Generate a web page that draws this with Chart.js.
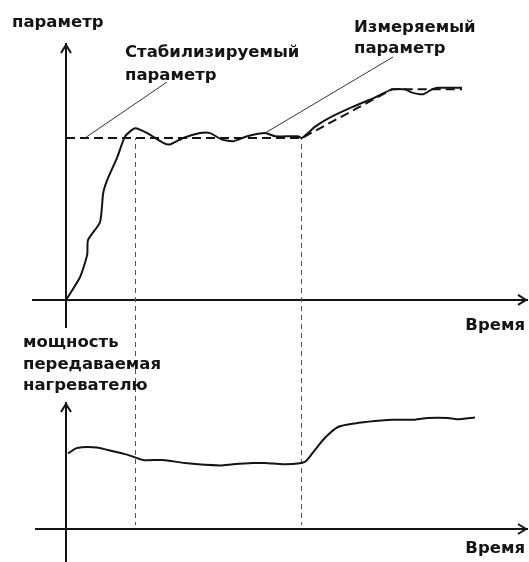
<!DOCTYPE html>
<html>
<head>
<meta charset="utf-8">
<script src="https://cdn.jsdelivr.net/npm/chart.js@4.4.1/dist/chart.umd.min.js"></script>
<style>
  html, body { margin: 0; padding: 0; background: #fff; }
  #wrap { position: relative; width: 529px; height: 562px; overflow: hidden; }
  #wrap canvas { position: absolute; left: 0; top: 0; }
</style>
</head>
<body>
<div id="wrap">
  <canvas id="topChart" width="529" height="562"></canvas>
  <canvas id="bottomChart" width="529" height="562"></canvas>
</div>
<script>
// time in conventional units, parameter in % of the setpoint, power in %
const timeMarks = [17.25, 58.75];

const measuredT = [0, 3.5, 5.3, 5.5, 8.5, 9.3, 10.3, 12.8, 14.8, 17.3, 20.3, 24.3, 26, 29.3, 33.5, 36, 39, 41.8, 45.3, 49.8, 52.3, 58, 59, 62.3, 65.5, 71.5, 77.3, 81.5, 84.8, 86.5, 89.3, 91.5, 93, 99];
const measuredV = [0, 14, 28, 37, 48, 66, 74, 88, 101, 106, 103, 97, 96, 100, 103, 103, 99, 98, 101, 103, 101, 101, 100, 107, 112, 119, 125, 130, 130, 128, 127, 130, 131, 131];

const setpointT = [0, 59, 81.5, 99];
const setpointV = [100, 100, 130, 130];

const powerT = [0.5, 2.75, 7.75, 10.25, 15.25, 19.25, 24.25, 29.75, 38.5, 41.75, 46.75, 49.75, 54.75, 59.75, 62.25, 64.75, 68, 72.25, 77.25, 81.5, 86.5, 90.5, 95.5, 97.75, 102.25];
const powerP = [63, 67.5, 68, 66, 62, 57.5, 57.5, 55, 53, 54, 55, 55, 54, 56, 66, 76, 85, 88, 90, 91, 91, 92.5, 92.5, 91.5, 93];

const topAxisLabel = ['параметр'];
const bottomAxisLabel = ['мощность', 'передаваемая', 'нагревателю'];
const timeLabel = 'Время';
const setpointLabel = ['Стабилизируемый', 'параметр'];
const measuredLabel = ['Измеряемый', 'параметр'];

const INK = '#141414';
const FONT = 'bold 16.5px "DejaVu Sans"';
const SPLIT_Y = 340; // where the guide line passes from one chart to the other

function zip(t, v) {
  return t.map((x, i) => ({ x: x, y: v[i] }));
}

function writeLines(ctx, lines, x, y, step, align) {
  ctx.save();
  ctx.fillStyle = INK;
  ctx.font = FONT;
  ctx.textAlign = align || 'left';
  ctx.textBaseline = 'alphabetic';
  lines.forEach((s, i) => ctx.fillText(s, x, y + i * step));
  ctx.restore();
}

function drawArrows(chart) {
  const { ctx, chartArea, scales } = chart;
  const x0 = scales.x.getPixelForValue(0);
  const y0 = scales.y.getPixelForValue(0);
  ctx.save();
  ctx.strokeStyle = INK;
  ctx.lineWidth = 2;
  ctx.beginPath();
  ctx.moveTo(x0 - 5, chartArea.top + 9);
  ctx.lineTo(x0, chartArea.top + 1);
  ctx.lineTo(x0 + 5, chartArea.top + 9);
  ctx.moveTo(chartArea.right - 9, y0 - 5);
  ctx.lineTo(chartArea.right - 1, y0);
  ctx.lineTo(chartArea.right - 9, y0 + 5);
  ctx.stroke();
  ctx.restore();
}

function drawMarks(chart, fromY, toY) {
  const { ctx, scales } = chart;
  ctx.save();
  ctx.strokeStyle = '#555';
  ctx.lineWidth = 1;
  ctx.setLineDash([5, 4]);
  ctx.lineDashOffset = fromY;
  timeMarks.forEach(t => {
    const x = Math.round(scales.x.getPixelForValue(t)) + 0.5;
    ctx.beginPath();
    ctx.moveTo(x, fromY);
    ctx.lineTo(x, toY);
    ctx.stroke();
  });
  ctx.restore();
}

function leader(ctx, x1, y1, x2, y2) {
  ctx.save();
  ctx.strokeStyle = '#333';
  ctx.lineWidth = 1;
  ctx.beginPath();
  ctx.moveTo(x1, y1);
  ctx.lineTo(x2, y2);
  ctx.stroke();
  ctx.restore();
}

function axisScales(xMin, xMax, yMin, yMax) {
  const common = {
    type: 'linear',
    grid: { display: false, drawTicks: false },
    ticks: { display: false },
    border: { display: true, color: INK, width: 2 }
  };
  return {
    x: Object.assign({}, common, { min: xMin, max: xMax, position: { y: 0 } }),
    y: Object.assign({}, common, { min: yMin, max: yMax, position: { x: 0 } })
  };
}

const topDecor = {
  id: 'topDecor',
  beforeDatasetsDraw(chart) {
    drawMarks(chart, chart.scales.y.getPixelForValue(setpointV[0]), SPLIT_Y);
  },
  afterDraw(chart) {
    const { ctx, scales } = chart;
    drawArrows(chart);
    writeLines(ctx, topAxisLabel, 12, 27, 0);
    writeLines(ctx, setpointLabel, 125, 57, 23);
    writeLines(ctx, measuredLabel, 354, 32, 21);
    writeLines(ctx, [timeLabel], 525, 330, 0, 'right');
    leader(ctx, 167, 82, scales.x.getPixelForValue(4.75), scales.y.getPixelForValue(100));
    leader(ctx, 393, 57, scales.x.getPixelForValue(49.75), scales.y.getPixelForValue(103));
  }
};

const bottomDecor = {
  id: 'bottomDecor',
  beforeDatasetsDraw(chart) {
    drawMarks(chart, SPLIT_Y, chart.scales.y.getPixelForValue(0) - 4);
  },
  afterDraw(chart) {
    const { ctx } = chart;
    drawArrows(chart);
    writeLines(ctx, bottomAxisLabel, 23, 347, 21.5);
    writeLines(ctx, [timeLabel], 525, 553, 0, 'right');
  }
};

const baseOptions = {
  responsive: false,
  animation: false,
  events: [],
  devicePixelRatio: 1,
  plugins: { legend: { display: false }, tooltip: { enabled: false } }
};

new Chart(document.getElementById('topChart'), {
  type: 'line',
  data: {
    datasets: [
      { data: zip(setpointT, setpointV), borderColor: INK, borderWidth: 2, borderDash: [9, 5], pointRadius: 0, tension: 0 },
      { data: zip(measuredT, measuredV), borderColor: INK, borderWidth: 2, pointRadius: 0, tension: 0.2 }
    ]
  },
  options: Object.assign({}, baseOptions, {
    layout: { padding: { left: 33, right: 2, top: 44, bottom: 235 } },
    scales: axisScales(-8.25, 115.25, -16.7, 158)
  }),
  plugins: [topDecor]
});

new Chart(document.getElementById('bottomChart'), {
  type: 'line',
  data: {
    datasets: [
      { data: zip(powerT, powerP), borderColor: INK, borderWidth: 2, pointRadius: 0, tension: 0.2 }
    ]
  },
  options: Object.assign({}, baseOptions, {
    layout: { padding: { left: 36, right: 2, top: 403, bottom: 0 } },
    scales: axisScales(-7.5, 115.25, -27.5, 105)
  }),
  plugins: [bottomDecor]
});
</script>
</body>
</html>
